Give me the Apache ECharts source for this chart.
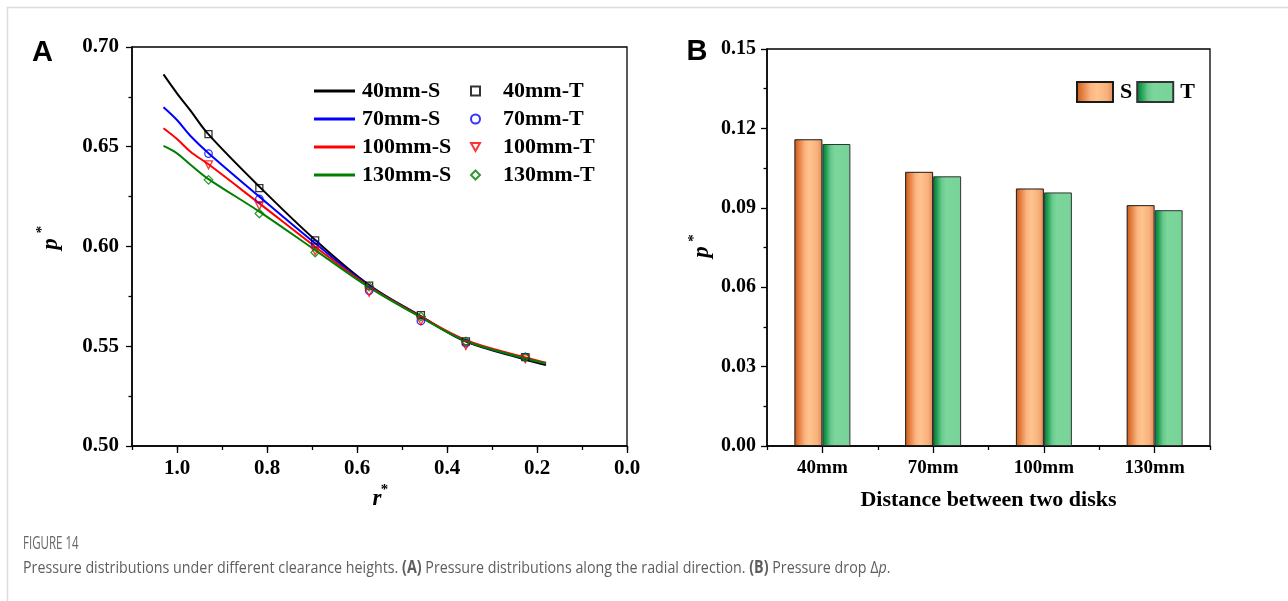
<!DOCTYPE html>
<html><head><meta charset="utf-8">
<script src="https://cdn.jsdelivr.net/npm/echarts@6/dist/echarts.min.js"></script>
<style>html,body{margin:0;padding:0;background:#fff}#c{width:1288px;height:601px}</style>
</head><body><div id="c"></div>
<script>
// ---- data ----
const rS   = [1.03, 1.0, 0.97, 0.93, 0.817, 0.693, 0.573, 0.458, 0.358, 0.226, 0.18];
const s40  = [0.6863, 0.6768, 0.6681, 0.6562, 0.6300, 0.6033, 0.5807, 0.5651, 0.5523, 0.5434, 0.5406];
const s70  = [0.6698, 0.6634, 0.6554, 0.6468, 0.6250, 0.6016, 0.5802, 0.5648, 0.5526, 0.5439, 0.5414];
const s100 = [0.6593, 0.6539, 0.6475, 0.6412, 0.6216, 0.5999, 0.5799, 0.5648, 0.5531, 0.5444, 0.5418];
const s130 = [0.6504, 0.6467, 0.6410, 0.6338, 0.6175, 0.5982, 0.5795, 0.5645, 0.5526, 0.5439, 0.5414];
const rT   = [0.93, 0.817, 0.693, 0.573, 0.458, 0.358, 0.226];
const t40  = [0.6563, 0.6293, 0.6031, 0.5804, 0.5656, 0.5524, 0.5445];
const t70  = [0.6466, 0.6238, 0.6013, 0.5779, 0.5627, 0.5516, 0.5445];
const t100 = [0.6409, 0.6205, 0.5978, 0.5771, 0.5627, 0.5504, 0.5437];
const t130 = [0.6334, 0.6165, 0.5970, 0.5799, 0.5649, 0.5524, 0.5445];
const sNames = ['40mm-S', '70mm-S', '100mm-S', '130mm-S'];
const tNames = ['40mm-T', '70mm-T', '100mm-T', '130mm-T'];
const rTickLabels = [0, 0.2, 0.4, 0.6, 0.8, 1.0];
const disks = ['40mm', '70mm', '100mm', '130mm'];
const dropS = [0.1159, 0.1036, 0.0973, 0.0910];
const dropT = [0.1141, 0.1019, 0.0958, 0.0891];
const barNames = ['S', 'T'];

// ---- styles ----
const SERIF = '"Liberation Serif","Times New Roman",serif';
const CAP = '"Open Sans", "Noto Sans", sans-serif';
const lineColors = ['#000000', '#0000FF', '#FF0000', '#008000'];
const tSymbols = ['rect', 'circle', 'path://M0,0L10,0L5,8.66Z', 'diamond'];
const tSizes = [7, 7.5, 8, 8.5];
const sData = [s40, s70, s100, s130];
const tData = [t40, t70, t100, t130];

const chart = echarts.init(document.getElementById('c'), null, {renderer: 'canvas'});
const lab = (size, extra) => Object.assign({color: '#000', fontFamily: SERIF, fontWeight: 'bold', fontSize: size}, extra || {});
const axLine = {show: true, onZero: false, lineStyle: {color: '#000', width: 1.5}};
const tickSt = {color: '#000', width: 1.3};

const series = [];
sData.forEach((d, i) => series.push({
  name: sNames[i], type: 'line', xAxisIndex: 0, yAxisIndex: 0,
  data: rS.map((r, k) => [r, d[k]]), smooth: 0.35, symbol: 'none',
  lineStyle: {color: lineColors[i], width: 2}, itemStyle: {color: lineColors[i]},
  z: 2, silent: true
}));
tData.forEach((d, i) => series.push({
  name: tNames[i], type: 'scatter', xAxisIndex: 0, yAxisIndex: 0,
  data: rT.map((r, k) => [r, d[k]]), symbol: tSymbols[i], symbolSize: tSizes[i],
  itemStyle: {color: 'rgba(255,255,255,0)', borderColor: lineColors[i], borderWidth: 1.3},
  z: 3, silent: true
}));
const gradS = new echarts.graphic.LinearGradient(0, 0, 1, 0, [
  {offset: 0, color: '#C4561A'}, {offset: 0.12, color: '#DC7434'}, {offset: 0.38, color: '#FDB480'},
  {offset: 0.55, color: '#FFC48E'}, {offset: 0.82, color: '#F8B07C'}, {offset: 1, color: '#E08A52'}]);
const gradT = new echarts.graphic.LinearGradient(0, 0, 1, 0, [
  {offset: 0, color: '#007A36'}, {offset: 0.12, color: '#1A9A4E'}, {offset: 0.3, color: '#68C98C'},
  {offset: 0.45, color: '#7AD69A'}, {offset: 1, color: '#78D398'}]);
series.push({name: barNames[0], type: 'bar', xAxisIndex: 2, yAxisIndex: 1, data: dropS,
  barWidth: 28, barGap: '0%', itemStyle: {color: gradS, borderColor: '#1a1a1a', borderWidth: 1}, silent: true});
series.push({name: barNames[1], type: 'bar', xAxisIndex: 2, yAxisIndex: 1, data: dropT,
  barWidth: 28, barGap: '0%', itemStyle: {color: gradT, borderColor: '#333', borderWidth: 1}, silent: true});

const option = {
  animation: false,
  backgroundColor: '#fff',
  grid: [
    {left: 132, top: 47, width: 495, height: 399, show: true, borderColor: '#000', borderWidth: 1.3, backgroundColor: 'transparent', outerBoundsMode: 'none', containLabel: false},
    {left: 767, top: 49, width: 443, height: 397, show: true, borderColor: '#000', borderWidth: 1.3, backgroundColor: 'transparent', outerBoundsMode: 'none', containLabel: false}
  ],
  xAxis: [
    {gridIndex: 0, type: 'value', position: 'bottom', inverse: true, min: 0, max: 1.1, interval: 0.1,
     axisLine: axLine, axisTick: {show: true, inside: false, length: 4, lineStyle: tickSt},
     axisLabel: {show: true, customValues: rTickLabels, formatter: v => v.toFixed(1), margin: 12, ...lab(21)},
     splitLine: {show: false}, minorTick: {show: false}},
    {gridIndex: 0, type: 'value', position: 'bottom', inverse: true, min: 0, max: 1.1, interval: 0.2,
     axisLine: {show: false}, axisTick: {show: true, inside: false, length: 7, customValues: rTickLabels, lineStyle: tickSt},
     axisLabel: {show: false}, splitLine: {show: false}},
    {gridIndex: 1, type: 'category', position: 'bottom', data: disks,
     axisLine: axLine, axisTick: {show: true, alignWithLabel: true, length: 7, lineStyle: tickSt},
     axisLabel: {show: true, margin: 13, ...lab(19)}, splitLine: {show: false}},
    {gridIndex: 1, type: 'category', position: 'bottom', data: disks,
     axisLine: {show: false}, axisTick: {show: true, interval: 0, length: 4, lineStyle: tickSt},
     axisLabel: {show: false}, splitLine: {show: false}}
  ],
  yAxis: [
    {gridIndex: 0, type: 'value', position: 'left', min: 0.5, max: 0.7, interval: 0.05,
     axisLine: axLine, axisTick: {show: true, inside: false, length: 6, lineStyle: tickSt},
     minorTick: {show: true, splitNumber: 2, length: 3.5, lineStyle: tickSt},
     axisLabel: {formatter: v => v.toFixed(2), margin: 13, ...lab(21)}, splitLine: {show: false}, minorSplitLine: {show: false}},
    {gridIndex: 1, type: 'value', position: 'left', min: 0, max: 0.15, interval: 0.03,
     axisLine: axLine, axisTick: {show: true, inside: false, length: 6, lineStyle: tickSt},
     minorTick: {show: true, splitNumber: 2, length: 3.5, lineStyle: tickSt},
     axisLabel: {formatter: v => v.toFixed(2), margin: 11, ...lab(20)}, splitLine: {show: false}, minorSplitLine: {show: false}}
  ],
  legend: [
    {data: sNames, orient: 'vertical', left: 314, top: 77, padding: 0, itemGap: 0,
     icon: 'rect', itemWidth: 41, itemHeight: 3, selectedMode: false,
     textStyle: lab(22, {lineHeight: 28, padding: [0, 0, 0, 2]})},
    {data: tNames, orient: 'vertical', left: 470, top: 77, padding: 0, itemGap: 0,
     itemWidth: 9, itemHeight: 9, selectedMode: false,
     textStyle: lab(22, {lineHeight: 28, padding: [0, 0, 0, 18]})},
    {data: barNames, orient: 'horizontal', left: 1076, top: 80, padding: 0, itemGap: 4,
     icon: 'rect', itemWidth: 36, itemHeight: 20, selectedMode: false,
     textStyle: lab(22, {lineHeight: 24, padding: [0, 0, 0, 2]})}
  ],
  graphic: [
    {type: 'line', shape: {x1: 7, y1: 7.5, x2: 1288, y2: 7.5}, style: {stroke: '#dcdcdc', lineWidth: 1.5}, silent: true},
    {type: 'line', shape: {x1: 7.5, y1: 7, x2: 7.5, y2: 601}, style: {stroke: '#dcdcdc', lineWidth: 1.5}, silent: true},
    {type: 'text', x: 42.5, y: 53, style: {text: 'A', font: 'bold 29px "Liberation Sans", Arial, sans-serif', fill: '#000', align: 'center', verticalAlign: 'middle'}, silent: true},
    {type: 'text', x: 697, y: 52, style: {text: 'B', font: 'bold 29px "Liberation Sans", Arial, sans-serif', fill: '#000', align: 'center', verticalAlign: 'middle'}, silent: true},
    // r* (panel A x title)
    {type: 'text', x: 377, y: 498.6, style: {text: 'r', font: 'italic bold 23px ' + SERIF, fill: '#000', align: 'center', verticalAlign: 'middle'}, silent: true},
    {type: 'text', x: 384.5, y: 490.5, style: {text: '*', font: 'bold 15px ' + SERIF, fill: '#000', align: 'center', verticalAlign: 'middle'}, silent: true},
    // p* (panel A y title)
    {type: 'text', x: 51, y: 244, rotation: Math.PI / 2, style: {text: 'p', font: 'italic bold 23px ' + SERIF, fill: '#000', align: 'center', verticalAlign: 'middle'}, silent: true},
    {type: 'text', x: 42, y: 229.5, rotation: Math.PI / 2, style: {text: '*', font: 'bold 15px ' + SERIF, fill: '#000', align: 'center', verticalAlign: 'middle'}, silent: true},
    // p* (panel B y title)
    {type: 'text', x: 702.5, y: 252, rotation: Math.PI / 2, style: {text: 'p', font: 'italic bold 23px ' + SERIF, fill: '#000', align: 'center', verticalAlign: 'middle'}, silent: true},
    {type: 'text', x: 694, y: 238, rotation: Math.PI / 2, style: {text: '*', font: 'bold 15px ' + SERIF, fill: '#000', align: 'center', verticalAlign: 'middle'}, silent: true},
    // panel B x title
    {type: 'text', x: 988.5, y: 500, style: {text: 'Distance between two disks', font: 'bold 22px ' + SERIF, fill: '#000', align: 'center', verticalAlign: 'middle'}, silent: true},
    // caption
    {type: 'text', x: 23, y: 543.5, scaleX: 0.64, style: {text: 'FIGURE 14', font: '18px ' + CAP, fill: '#666666', align: 'left', verticalAlign: 'middle'}, silent: true},
    {type: 'text', x: 23, y: 568, scaleX: 0.84, style: {
      text: 'Pressure distributions under different clearance heights. {b|(A)} Pressure distributions along the radial direction. {b|(B)} Pressure drop \u0394{i|p}.',
      font: '17px ' + CAP, fill: '#5e5e5e', align: 'left', verticalAlign: 'middle',
      rich: {b: {fontWeight: 'bold', fontSize: 17, fontFamily: CAP, fill: '#5e5e5e', color: '#5e5e5e'},
             i: {fontStyle: 'italic', fontSize: 17, fontFamily: CAP, fill: '#5e5e5e', color: '#5e5e5e'}}
    }, silent: true}
  ],
  series: series
};
chart.setOption(option);
</script>
</body></html>
